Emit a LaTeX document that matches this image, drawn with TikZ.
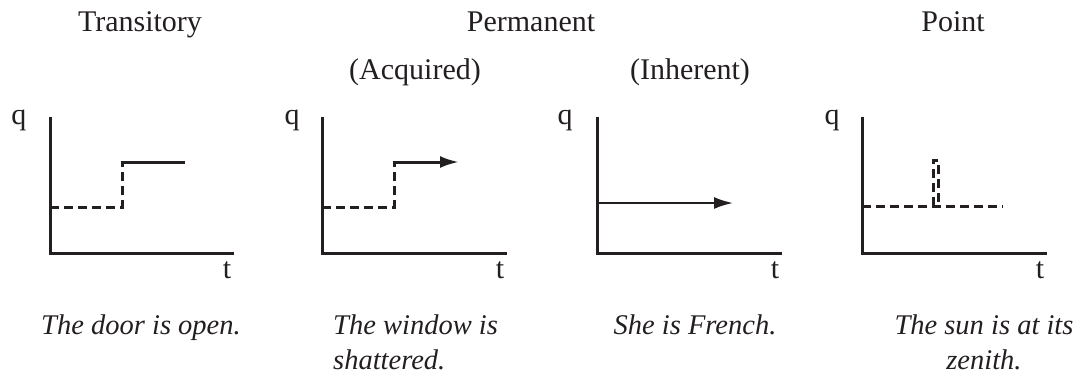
\documentclass[tikz,border=0pt]{standalone}
\usepackage{fontspec}
\setmainfont{Liberation Serif}
\usetikzlibrary{arrows.meta}
\definecolor{ink}{HTML}{231F20}
\tikzset{
  ax/.style={ink,line width=3pt,line join=miter},
  level/.style={ink,line width=3pt},
  before/.style={ink,line width=3pt,dash pattern=on 9pt off 5pt},
  arr/.style={-{Latex[length=19pt,width=12pt]},ink,line width=3pt},
  lbl/.style={ink,anchor=base,inner sep=0pt,font=\fontsize{30}{35}\selectfont},
  ex/.style={lbl,font=\fontsize{28.5}{35}\selectfont\itshape},
}

\begin{document}
\begin{tikzpicture}[x=1pt,y=-1pt]
  \useasboundingbox (0,0) rectangle (1080,376);
  % titles
  \node[lbl] (trans) at (140,31) {Transitory};
  \node[lbl] (perm) at (531,31) {Permanent};
  \node[lbl] (point) at (953,31) {Point};
  \node[lbl] (acq) at (415,79) {(Acquired)};
  \node[lbl] (inh) at (690,79) {(Inherent)};
  % transitory
  \draw[ax] (50,117) -- (50,253) -- (234,253);
  \node[lbl] (q1) at (19,124) {q};
  \node[lbl] (t1) at (227,278) {t};
  \draw[before] (50,207) -- (122,207) -- (122,162);
  \draw[level] (120.5,162) -- (185,162);
  % acquired
  \draw[ax] (322,117) -- (322,253) -- (507,253);
  \node[lbl] (q2) at (292,124) {q};
  \node[lbl] (t2) at (500,278) {t};
  \draw[before] (322,207) -- (394,207) -- (394,162);
  \draw[arr] (392.5,162) -- (459,162);
  % inherent
  \draw[ax] (597,117) -- (597,253) -- (782,253);
  \node[lbl] (q3) at (565,124) {q};
  \node[lbl] (t3) at (775,278) {t};
  \draw[arr,line width=2pt] (597,203) -- (733,203);
  % point
  \draw[ax] (862,117) -- (862,253) -- (1047,253);
  \node[lbl] (q4) at (832,124) {q};
  \node[lbl] (t4) at (1040,278) {t};
  \draw[before] (862,206) -- (1003,206);
  \draw[before] (933,206) -- (933,160) -- (938,160) -- (938,206);
  % examples
  \node[ex] (ex1) at (141,334) {The door is open.};
  \node[ex,anchor=base west,align=left] (ex2) at (333,369) {The window is\\shattered.};
  \node[ex] (ex3) at (695,334) {She is French.};
  \node[ex,align=center] (ex4) at (984,369) {The sun is at its\\zenith.};
\end{tikzpicture}
\end{document}
